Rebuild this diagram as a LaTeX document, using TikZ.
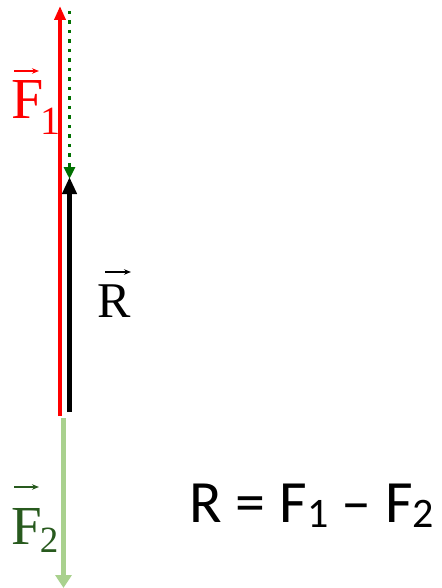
\documentclass[tikz,border=0pt]{standalone}
\usepackage{fontspec}
\setmainfont{Liberation Serif}
\newfontfamily\calib{Carlito}
\usetikzlibrary{arrows.meta}
\definecolor{fred}{RGB}{255,0,0}
\definecolor{dotgreen}{RGB}{0,112,0}
\definecolor{ftwo}{RGB}{40,90,30}
\definecolor{lightgr}{RGB}{169,209,142}
\tikzset{
  lbl/.style={inner sep=0pt, anchor=base west},
  vecarrow/.style={line width=1.2pt, -{Stealth[length=7pt,width=5.5pt]}},
}
\begin{document}
\begin{tikzpicture}[x=1pt,y=-1pt]
\useasboundingbox (0,0) rectangle (441,588);
% coordinates
\coordinate (rtop) at (60,6);
\coordinate (rbot) at (60,416);
\coordinate (gtop) at (69.5,11);
\coordinate (gtip) at (69.5,179);
\coordinate (btip) at (69.5,177);
\coordinate (bbot) at (69.5,412);
\coordinate (ltop) at (63.5,418);
\coordinate (ltip) at (63.5,588);
% red F1
\draw[fred, line width=4pt, -{Triangle[width=11pt,length=14pt]}] (rbot) -- (rtop);
% black R
\draw[black, line width=5pt, -{Triangle[width=14pt,length=17pt]}] (bbot) -- (btip);
% dotted green
\draw[dotgreen, line width=3.5pt, dash pattern=on 3.5pt off 6pt, -{Triangle[width=11pt,length=12pt]}] (gtop) -- (gtip);
% light green F2
\draw[lightgr, line width=5pt, -{Triangle[width=16pt,length=13pt]}] (ltop) -- (ltip);
% labels
\node[lbl, text=fred] (F1) at (11,119) {\fontsize{58}{60}\selectfont F\kern-3pt\raisebox{-16pt}{\fontsize{40}{40}\selectfont 1}};
\draw[vecarrow, fred] (14,71) -- (39,71);
\node[lbl, text=ftwo] (F2) at (11,544) {\fontsize{55}{60}\selectfont F\kern-2pt\raisebox{-8pt}{\fontsize{37}{40}\selectfont 2}};
\draw[vecarrow, ftwo] (14,487) -- (39,487);
\node[lbl] (R) at (97,317) {\fontsize{50}{60}\selectfont R};
\draw[vecarrow] (105,272) -- (131,272);
\node[inner sep=0pt, anchor=base] (eq) at (312,522) {\calib\fontsize{60}{62}\selectfont R = F\raisebox{-5pt}{\fontsize{42}{44}\selectfont 1} – F\raisebox{-5pt}{\fontsize{42}{44}\selectfont 2}};
\end{tikzpicture}
\end{document}
